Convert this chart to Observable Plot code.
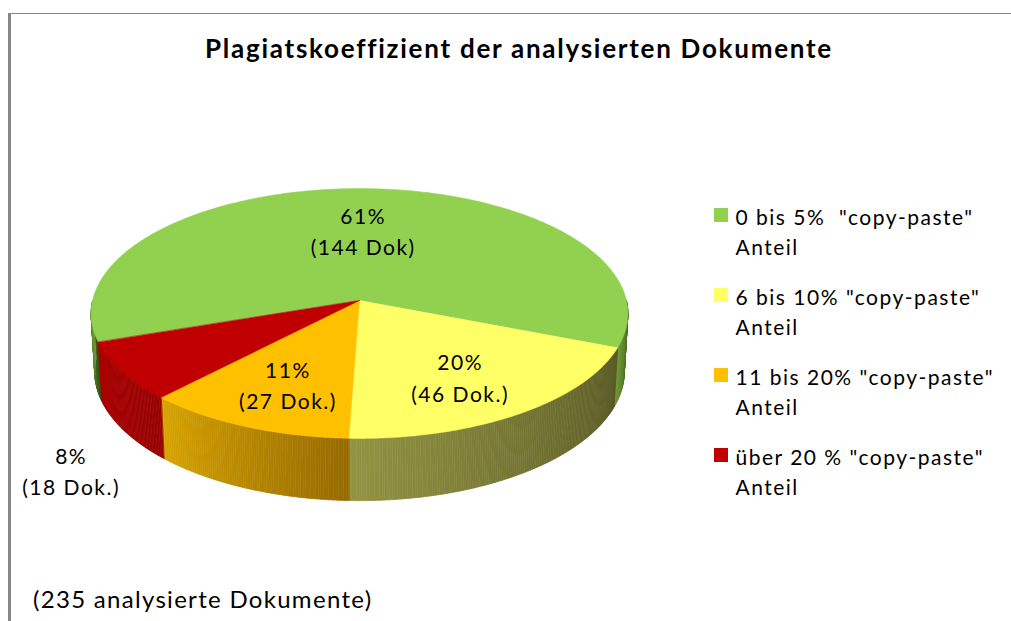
<!DOCTYPE html>
<html><head><meta charset="utf-8">
<script src="https://cdn.jsdelivr.net/npm/d3@7"></script>
<script src="https://cdn.jsdelivr.net/npm/@observablehq/plot@0.6"></script>
<style>
html,body{margin:0;padding:0;background:#fff;}
#wrap{position:relative;width:1011px;height:621px;overflow:hidden;font-family:Lato,"Open Sans",sans-serif;color:#000;}
#chart{position:absolute;left:0;top:0;}
#frame{position:absolute;left:8px;top:13px;right:-10px;bottom:-10px;border-left:3px solid #868686;border-top:1px solid #868686;pointer-events:none;}
#title{position:absolute;left:205px;top:35px;font-weight:700;font-size:26px;line-height:26px;white-space:nowrap;}
#note{position:absolute;left:33px;top:587px;font-size:24px;line-height:24px;white-space:nowrap;letter-spacing:1.3px;}
#chart svg text{white-space:pre;letter-spacing:1.5px;}
</style></head>
<body><div id="wrap"><div id="chart"></div><div id="frame"></div>
<div id="title">Plagiatskoeffizient der analysierten Dokumente</div>
<div id="note">(235 analysierte Dokumente)</div></div>
<script>
// ---- data ----
const categories = ['0 bis 5%  "copy-paste"\nAnteil', '6 bis 10% "copy-paste"\nAnteil', '11 bis 20% "copy-paste"\nAnteil', 'über 20 % "copy-paste"\nAnteil'];
const docCounts = [144, 46, 27, 18];
const docLabels = ["(144 Dok)", "(46 Dok.)", "(27 Dok.)", "(18 Dok.)"];
// ---- styles ----
const topColors = ["#92d050", "#ffff66", "#ffc000", "#c00000"];
const sideLight = ["#6f9a35", "#939343", "#d8a400", "#aa0000"];
const sideDark  = ["#2f4a14", "#585825", "#966a00", "#960000"];
const firstSliceAngle = 251; // degrees, clockwise from 12 o'clock

// ---- 3D projection of the pie disc ----
const CX = 359, CY = 300, F = 2277, D = 8.53, SIN = 0.463, COS = 0.886, H = 0.247;
function proj(t, r, h) {
  const u = r * Math.sin(t), v = -r * Math.cos(t);
  const sy = v * SIN + h * COS;
  const depth = D - v * COS + h * SIN;
  return [CX + F * u / depth, CY + F * sy / depth];
}
const total = d3.sum(docCounts);
const pct = docCounts.map(v => Math.round(v / total * 100));
const a0 = firstSliceAngle * Math.PI / 180;
const arcs = d3.pie().sort(null).startAngle(a0).endAngle(a0 + 2 * Math.PI)(docCounts);
const STEP = Math.PI / 360;

// top faces
const topRows = [];
arcs.forEach((a, i) => {
  const [ax, ay] = proj(0, 0, 0);
  topRows.push({id: "t" + i, x: ax, y: ay, c: topColors[i]});
  const n = Math.max(2, Math.ceil((a.endAngle - a.startAngle) / STEP));
  for (let k = 0; k <= n; k++) {
    const t = a.startAngle + (a.endAngle - a.startAngle) * k / n;
    const [x, y] = proj(t, 1, 0);
    topRows.push({id: "t" + i, x, y, c: topColors[i]});
  }
});

// visible outer side walls (front half)
const sideRows = [];
arcs.forEach((a, i) => {
  for (const w of [[Math.PI / 2, 3 * Math.PI / 2], [Math.PI * 5 / 2, Math.PI * 7 / 2]]) {
    const s = Math.max(a.startAngle, w[0]), e = Math.min(a.endAngle, w[1]);
    if (e <= s) continue;
    const n = Math.max(1, Math.ceil((e - s) / STEP));
    const col = d3.interpolateRgb(sideDark[i], sideLight[i]);
    for (let k = 0; k < n; k++) {
      const t1 = s + (e - s) * k / n, t2 = s + (e - s) * (k + 1) / n;
      const c = col((k + 0.5) / n);
      const id = `s${i}_${w[0]}_${k}`;
      for (const [t, h] of [[t1, 0], [t2, 0], [t2, H], [t1, H]]) {
        const [x, y] = proj(t, 1, h);
        sideRows.push({id, x, y, c});
      }
    }
  }
});

// data labels
const labelRows = arcs.map((a, i) => {
  const mid = (a.startAngle + a.endAngle) / 2;
  const inside = pct[i] >= 10;
  const [x, y] = inside ? proj(mid, 0.65, 0) : proj(mid, 1.22, H * 1.35);
  return {x, y: inside ? y + 4 : y, t: pct[i] + "%\n" + docLabels[i]};
});

// legend
const legendRows = categories.map((c, i) => {
  const yc = 215 + i * 80;
  return {x1: 714, x2: 728, y1: yc - 7, y2: yc + 7, tx: 735, ty: yc + 15, t: c, c: topColors[i]};
});

const plot = Plot.plot({
  width: 1011, height: 621, margin: 0,
  x: {domain: [0, 1011], range: [0, 1011], axis: null},
  y: {domain: [0, 621], range: [0, 621], axis: null},
  color: {type: "identity"},
  style: {fontFamily: "Lato, 'Open Sans', sans-serif", background: "transparent", color: "#000"},
  marks: [
    Plot.line(sideRows, {x: "x", y: "y", z: "id", fill: "c", stroke: "c", strokeWidth: 0.7, curve: "linear-closed"}),
    Plot.line(topRows, {x: "x", y: "y", z: "id", fill: "c", stroke: "c", strokeWidth: 0.5, curve: "linear-closed"}),
    Plot.text(labelRows, {x: "x", y: "y", text: "t", fontSize: 21, lineHeight: 1.5, fill: "#000"}),
    Plot.rect(legendRows, {x1: "x1", x2: "x2", y1: "y1", y2: "y2", fill: "c"}),
    Plot.text(legendRows, {x: "tx", y: "ty", text: "t", textAnchor: "start", fontSize: 21, lineHeight: 1.45, fill: "#000"})
  ]
});
document.getElementById("chart").appendChild(plot);

// stretch title to the reference width (205 → 830 px)
const title = document.getElementById("title");
const txt = title.textContent;
const w = title.getBoundingClientRect().width;
title.style.letterSpacing = ((625 - w) / (txt.length - 1)) + "px";
</script>
</body></html>
